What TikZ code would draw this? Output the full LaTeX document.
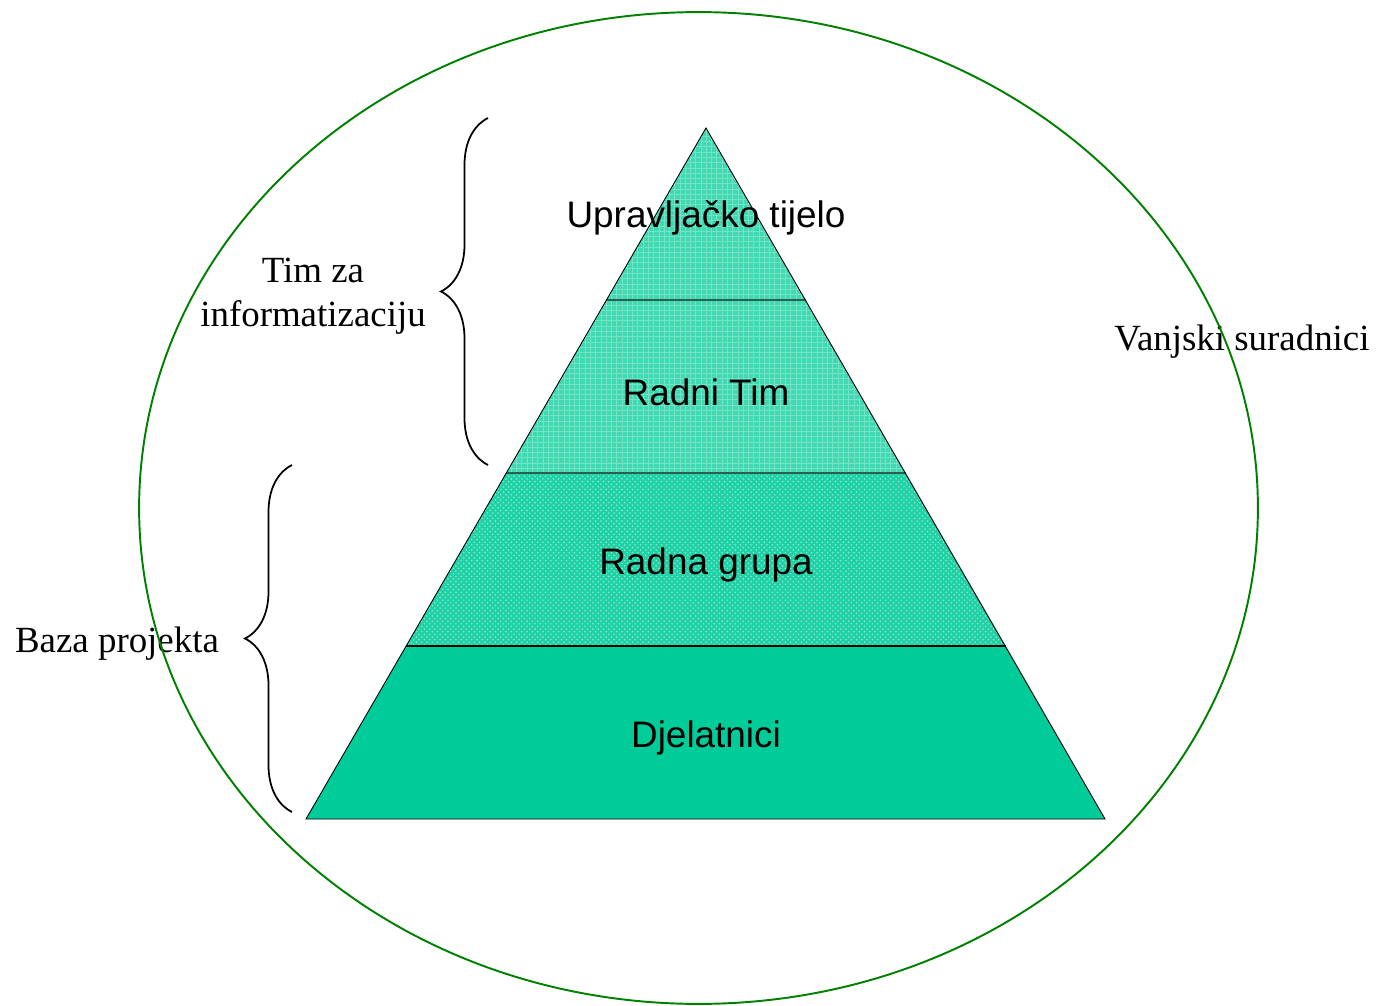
\documentclass[tikz,border=0pt]{standalone}
\usepackage{fontspec}
\setmainfont{Liberation Serif}
\newfontfamily\arialfont{Liberation Sans}
\usetikzlibrary{patterns,decorations.pathreplacing}
\definecolor{pyrteal}{RGB}{0,204,153}
\definecolor{ringgreen}{RGB}{0,128,0}
\definecolor{bandline}{RGB}{45,95,80}
\tikzset{
  lvl/.style={font=\arialfont\fontsize{21}{25}\selectfont},
  side/.style={font=\fontsize{21}{25}\selectfont, align=center},
  bracket/.style={decorate, decoration={brace, amplitude=0.94cm}, line width=1pt},
}

\begin{document}
\begin{tikzpicture}[x=0.02cm,y=-0.02cm]
\useasboundingbox (0,0) rectangle (1381,1006);
\coordinate (apex) at (706,128);
\coordinate (bl) at (306,819);
\coordinate (br) at (1105,819);
\fill[pyrteal] (406.1,646) -- (1005.9,646) -- (br) -- (bl) -- cycle;
\fill[pyrteal!88!white, postaction={pattern=crosshatch dots, pattern color=white!55!pyrteal}] (506.3,473) -- (905.7,473) -- (1005.9,646) -- (406.1,646) -- cycle;
\fill[pyrteal!75!white, postaction={pattern=grid, pattern color=white!45!pyrteal}] (apex) -- (905.7,473) -- (506.3,473) -- cycle;
\draw[bandline, line width=1.7pt] (606.4,300) -- (805.6,300) (506.3,473) -- (905.7,473);
\draw[line width=1.1pt] (406.1,646) -- (1005.9,646);
\draw[line width=0.5pt] (apex) -- (br) -- (bl) -- cycle;
\node[lvl] (upr) at (706,218) {Upravljačko tijelo};
\node[lvl] (rtim) at (706,392) {Radni Tim};
\node[lvl] (rgr) at (706,565) {Radna grupa};
\node[lvl] (djel) at (706,738) {Djelatnici};
\node[side] (tim) at (313,296) {Tim za\\informatizaciju};
\node[side] (baza) at (117,644) {Baza projekta};
\node[side] (vanj) at (1242,342) {Vanjski suradnici};
\coordinate (t1) at (488,465);
\coordinate (t2) at (488,118);
\draw[bracket] (t1) -- (t2);
\coordinate (b1) at (292,812);
\coordinate (b2) at (292,465);
\draw[bracket] (b1) -- (b2);
\draw[ringgreen, line width=1.1pt] (698.5,508) ellipse [x radius=11.19cm, y radius=9.92cm];
\end{tikzpicture}
\end{document}
